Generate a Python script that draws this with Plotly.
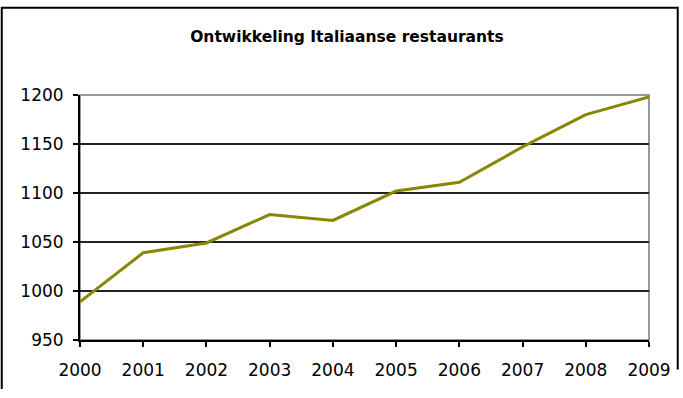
import plotly.graph_objects as go

years = [2000, 2001, 2002, 2003, 2004, 2005, 2006, 2007, 2008, 2009]
restaurants = [989, 1039, 1049, 1078, 1072, 1102, 1111, 1147, 1180, 1198]
y_ticks = [950, 1000, 1050, 1100, 1150, 1200]
title_text = "Ontwikkeling Italiaanse restaurants"

fig = go.Figure()
fig.add_trace(go.Scatter(
    x=years, y=restaurants, mode="lines",
    line=dict(color="#878700", width=3),
    showlegend=False,
))

# plot-area frame: grey top & right
fig.add_shape(type="rect", xref="paper", yref="paper", x0=0, x1=1, y0=0, y1=1,
              line=dict(color="#999999", width=2), layer="below")
# outer chart border (left, top, right)
fig.add_shape(type="path", xref="paper", yref="paper",
              path="M -0.1375,-0.2 L -0.1375,1.356 L 1.0505,1.356 L 1.0505,-0.12",
              line=dict(color="black", width=2))

fig.update_layout(
    width=683, height=398,
    margin=dict(l=80, r=31, t=95, b=58),
    paper_bgcolor="white", plot_bgcolor="white",
    title=dict(text=title_text, x=0.508, xanchor="center", y=0.907, yanchor="middle",
               font=dict(family="DejaVu Sans", size=15.5, color="black", weight="bold")),
    font=dict(family="DejaVu Sans", size=17, color="black"),
    xaxis=dict(range=[2000, 2009], tickvals=years, ticktext=[str(y) for y in years],
               showgrid=False, showline=True, linecolor="black", linewidth=2,
               ticks="outside", ticklen=5, tickwidth=2, tickcolor="black",
               ticklabelstandoff=9, zeroline=False, fixedrange=True),
    yaxis=dict(range=[950, 1200], tickvals=y_ticks,
               showgrid=True, gridcolor="#222222", gridwidth=2,
               showline=True, linecolor="black", linewidth=2,
               ticks="outside", ticklen=5, tickwidth=2, tickcolor="black",
               ticklabelstandoff=6, zeroline=False, fixedrange=True),
)

fig.write_html("out.html")
